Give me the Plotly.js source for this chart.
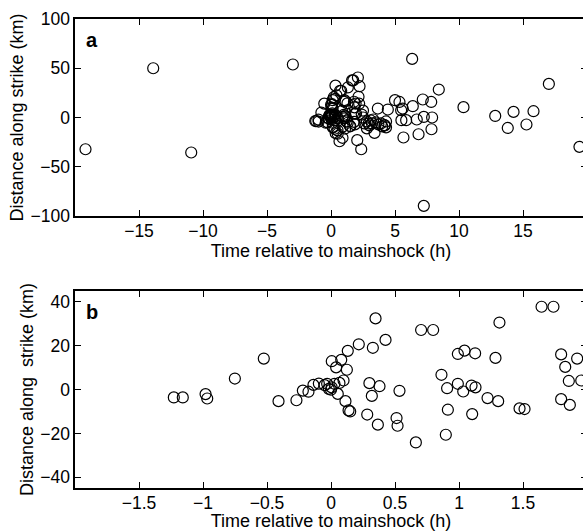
<!DOCTYPE html>
<html>
<head>
<meta charset="utf-8">
<script src="https://cdn.plot.ly/plotly-3.0.1.min.js"></script>
<style>
html,body{margin:0;padding:0;overflow:hidden;background:#fff;}
#chart{width:600px;height:531px;}
</style>
</head>
<body>
<div id="chart"></div>
<script>
// Events within the first hours (visible in both panels)
const timeEarly = [-1.228,-1.158,-0.98,-0.967,-0.751,-0.525,-0.41,-0.27,-0.22,-0.176,-0.137,-0.095,-0.05,-0.03,-0.017,0.0,0.005,0.006,0.027,0.04,0.053,0.066,0.08,0.098,0.113,0.124,0.131,0.137,0.15,0.217,0.283,0.30,0.319,0.327,0.348,0.366,0.379,0.426,0.512,0.52,0.535,0.663,0.704,0.798,0.863,0.897,0.907,0.913,0.991,0.991,1.033,1.043,1.098,1.103,1.126,1.129,1.223,1.285,1.306,1.316,1.473,1.512,1.645,1.738,1.798,1.798,1.83,1.858,1.866,1.923,1.955];
const distEarly = [-3.6,-3.6,-2.1,-4.1,5.0,14.1,-5.3,-4.9,-0.5,-1.0,2.1,2.7,2.0,2.6,0.3,-0.1,1.0,12.9,2.6,10.1,-2.0,3.0,13.5,4.1,-5.3,9.0,17.6,-9.5,-10.0,20.6,-11.4,2.9,-2.9,19.0,32.4,-16.0,1.5,22.6,-13.0,-16.5,-0.6,-24.1,27.1,27.1,6.7,-20.6,0.6,-9.2,2.6,16.2,-0.9,17.7,1.8,-11.2,16.5,1.0,-3.9,14.4,-5.3,30.5,-8.6,-8.9,37.7,37.7,16.0,-4.4,10.3,3.9,-7.0,14.1,4.1];
// Other events (outside the first-hours window)
const timeOther = [-19.18,-13.89,-10.92,-2.98,2.05,2.36,2.23,2.1,2.15,2.2,2.5,2.5,2.6,2.8,3.0,3.1,3.2,3.3,3.5,3.66,3.7,3.9,4.0,4.18,4.3,4.44,4.3,3.4,2.4,2.8,2.95,4.2,5.0,5.35,5.6,5.48,5.5,5.87,5.66,6.34,6.39,6.7,6.84,7.17,7.25,7.25,7.83,7.9,7.85,8.42,10.35,12.83,13.81,14.26,15.27,15.82,17.02,19.41];
const distOther = [-32.2,50,-35.5,53.8,-23,-32.2,31.8,40.6,21,14,7,0,-6,-4,-8,-3,-6,-2,-5,9.1,-7,-6,-9,-7.8,-4,8.1,-10,-15.6,3,-11,-6,-8,17.6,15.8,9.1,7.4,-2.7,-2.7,-20.3,59.5,11.5,-2.0,-17,18.3,0.6,-89.7,15.8,0,-11.9,28.4,10.5,1.6,-10.6,5.7,-7.1,6.4,34.1,-29.8];

const tickA_x = [-15,-10,-5,0,5,10,15];
const tickA_xText = ['\u221215','\u221210','\u22125','0','5','10','15'];
const tickA_y = [-100,-50,0,50,100];
const tickA_yText = ['\u2212100','\u221250','0','50','100'];
const tickB_x = [-1.5,-1,-0.5,0,0.5,1,1.5];
const tickB_xText = ['\u22121.5','\u22121','\u22120.5','0','0.5','1','1.5'];
const tickB_y = [-40,-20,0,20,40];
const tickB_yText = ['\u221240','\u221220','0','20','40'];

const allTime = timeEarly.concat(timeOther);
const allDist = distEarly.concat(distOther);

const FONT = 'Liberation Sans, Arial, Helvetica, sans-serif';
const marker = {symbol:'circle-open', size:11, color:'#000', line:{width:1.2, color:'#000'}};

const traces = [
  {x: allTime, y: allDist, xaxis:'x', yaxis:'y', mode:'markers', type:'scatter', marker: marker, hoverinfo:'x+y'},
  {x: allTime, y: allDist, xaxis:'x2', yaxis:'y2', mode:'markers', type:'scatter', marker: marker, hoverinfo:'x+y'}
];

function ax(extra){
  return Object.assign({
    showline:true, linecolor:'#000', linewidth:1.6, mirror:'ticks',
    ticks:'inside', ticklen:6, tickwidth:1, tickcolor:'#000',
    showgrid:false, zeroline:false, tickmode:'array',
    tickfont:{family:FONT, size:17.5, color:'#000'},
    automargin:false
  }, extra);
}

const xTitle = 'Time relative to mainshock (h)';
const tfont = {family:FONT, size:18, color:'#000'};
const layout = {
  width:600, height:531,
  margin:{l:75, r:13, t:0, b:0},
  paper_bgcolor:'#fff', plot_bgcolor:'#fff',
  showlegend:false,
  font:{family:FONT, size:18, color:'#000'},
  xaxis: ax({anchor:'y', domain:[0,1], range:[-20,20], tickvals:tickA_x, ticktext:tickA_xText, ticklabelstandoff:-2,
    title:{text:xTitle, font:tfont, standoff:3}}),
  yaxis: ax({anchor:'x', domain:[0.5932,0.9642], range:[-100,100], tickvals:tickA_y, ticktext:tickA_yText,
    title:{text:'Distance along strike (km)', font:tfont, standoff:2}}),
  xaxis2: ax({anchor:'y2', domain:[0,1], range:[-2,2], tickvals:tickB_x, ticktext:tickB_xText, ticklabelstandoff:-2,
    title:{text:xTitle, font:tfont, standoff:3}}),
  yaxis2: ax({anchor:'x2', domain:[0.0804,0.4525], range:[-45,45], tickvals:tickB_y, ticktext:tickB_yText,
    title:{text:'Distance along\u00a0 strike (km)', font:tfont, standoff:2}}),
  annotations:[
    {text:'<b>a</b>', xref:'x domain', yref:'y domain', x:0.018, y:0.892, xanchor:'left', yanchor:'middle', showarrow:false, font:{family:FONT,size:20,color:'#000'}},
    {text:'<b>b</b>', xref:'x2 domain', yref:'y2 domain', x:0.018, y:0.892, xanchor:'left', yanchor:'middle', showarrow:false, font:{family:FONT,size:20,color:'#000'}}
  ]
};

Plotly.newPlot('chart', traces, layout, {displayModeBar:false, staticPlot:true});
</script>
</body>
</html>
